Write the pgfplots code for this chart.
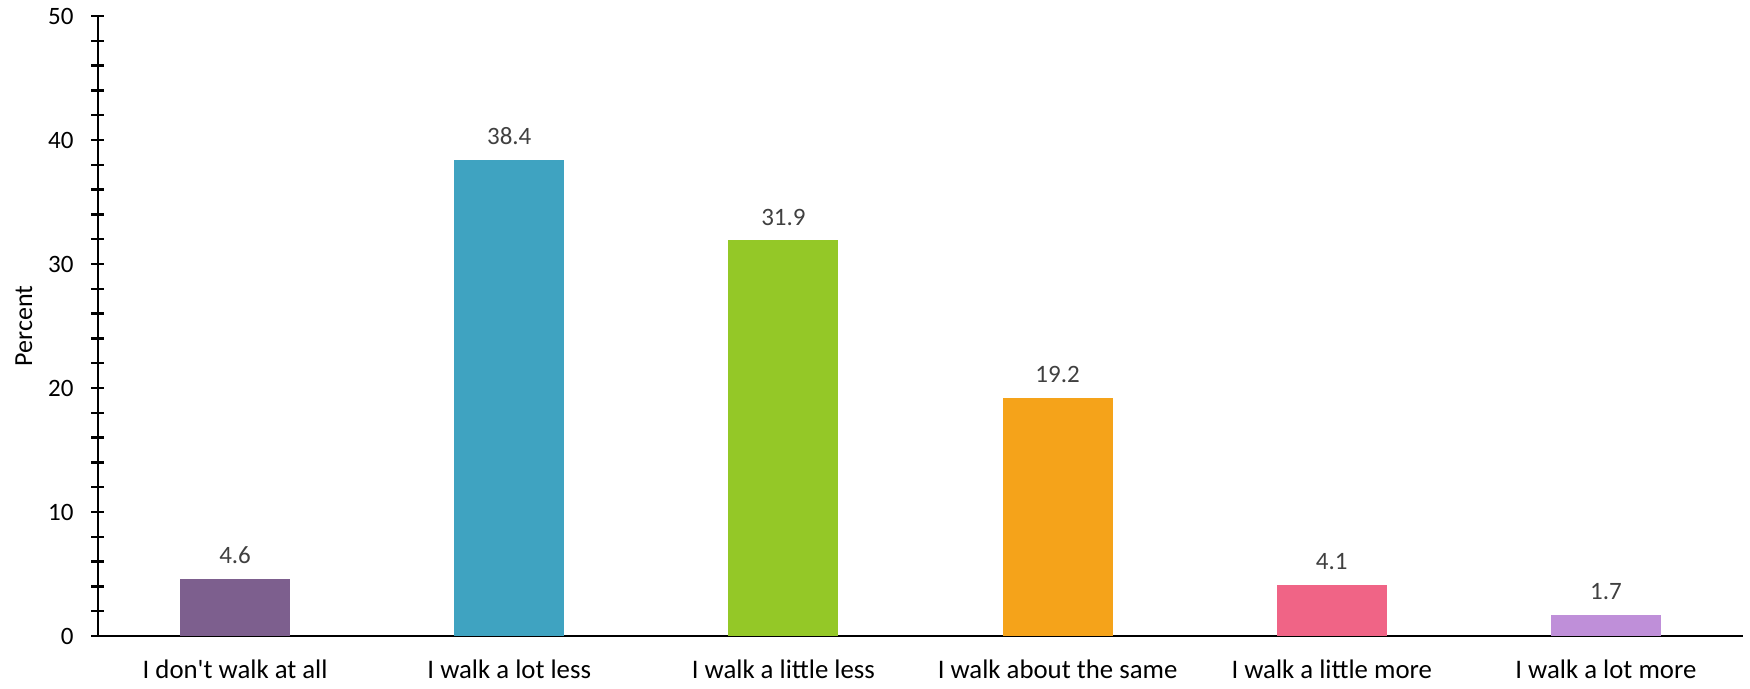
\documentclass[border=0pt]{standalone}
\usepackage{pgfplots}
\pgfplotsset{compat=1.18}
\usepackage{fontspec}
\setmainfont{Carlito}
\definecolor{c1}{HTML}{7D5F8E}
\definecolor{c2}{HTML}{3FA3C1}
\definecolor{c3}{HTML}{94C827}
\definecolor{c4}{HTML}{F5A31A}
\definecolor{c5}{HTML}{F06486}
\definecolor{c6}{HTML}{BF8FD9}
\definecolor{lbl}{HTML}{404040}
\pgfplotsset{mybar/.style={draw=none, fill=#1, ybar, bar width=55pt, nodes near coords, nodes near coords style={text=lbl, font=\fontsize{12.5pt}{14pt}\selectfont, anchor=south, yshift=4pt}, /pgf/number format/.cd, fixed, precision=1}}
\begin{document}
\begin{tikzpicture}
\begin{axis}[
  scale only axis,
  width=822.5pt, height=310pt,
  xmin=-0.5, xmax=5.5, ymin=0, ymax=50,
  axis lines=left,
  axis line style={line width=1.3pt, -},
  ytick={0,10,20,30,40,50},
  minor ytick={2,4,6,8,12,14,16,18,22,24,26,28,32,34,36,38,42,44,46,48},
  y tick style={line width=1.2pt, black},
  major tick length=6.5pt, minor tick length=6.5pt,
  tick align=center,
  xtick={0,1,2,3,4,5},
  xticklabels={I don\textquotesingle t walk at all, I walk a lot less, I walk a little less, I walk about the same, I walk a little more, I walk a lot more},
  x tick style={draw=none},
  yticklabel style={font=\fontsize{12.5pt}{14pt}\selectfont, xshift=-5.5pt},
  xticklabel style={font=\fontsize{13.4pt}{15pt}\selectfont, yshift=-5pt},
  /pgf/number format/assume math mode=true,
  ylabel={Percent},
  every axis y label/.style={at={(axis description cs:0,0.5)}, xshift=-37pt, rotate=90, anchor=center, font=\fontsize{13pt}{15pt}\selectfont},
  clip=false,
]
\addplot[mybar=c1] coordinates {(0,4.6)};
\addplot[mybar=c2] coordinates {(1,38.4)};
\addplot[mybar=c3] coordinates {(2,31.9)};
\addplot[mybar=c4] coordinates {(3,19.2)};
\addplot[mybar=c5] coordinates {(4,4.1)};
\addplot[mybar=c6] coordinates {(5,1.7)};
\coordinate (sw) at (rel axis cs:0,0);
\end{axis}
\pgfresetboundingbox
\path (sw) ++(-49pt,-26.5pt) rectangle ++(875pt,344.5pt);
\end{tikzpicture}
\end{document}
